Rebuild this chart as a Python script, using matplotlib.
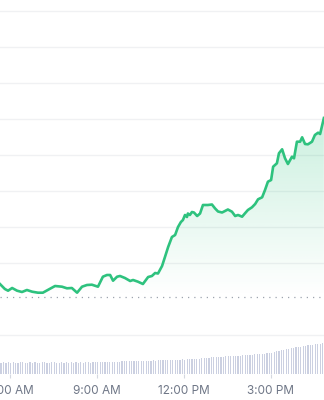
import matplotlib
matplotlib.use("Agg")
import matplotlib.pyplot as plt
import numpy as np
from matplotlib.patches import Polygon

# price trace (time in hours of the day, price in chart units)
hours = [5.67, 5.84, 5.95, 6.09, 6.26, 6.43, 6.60, 6.78, 6.98, 7.15,
         7.40, 7.57, 7.81, 7.98, 8.15, 8.33, 8.50, 8.67, 8.84, 9.05,
         9.22, 9.36, 9.47, 9.57, 9.71, 9.81, 9.98, 10.16, 10.26, 10.43,
         10.60, 10.78, 10.91, 11.02, 11.12, 11.26, 11.36, 11.47, 11.60, 11.71,
         11.81, 11.91, 11.98, 12.05, 12.12, 12.15, 12.22, 12.29, 12.36, 12.47,
         12.57, 12.67, 12.84, 12.98, 13.09, 13.19, 13.33, 13.43, 13.53, 13.67,
         13.78, 13.88, 14.02, 14.12, 14.22, 14.36, 14.47, 14.57, 14.71, 14.81,
         14.91, 15.02, 15.09, 15.22, 15.29, 15.40, 15.50, 15.60, 15.74, 15.81,
         15.91, 16.02, 16.09, 16.19, 16.29, 16.43, 16.53, 16.64, 16.71, 16.84]
price = [16, 11, 9.3, 12, 9.3, 8, 10, 8.3, 7.3, 7.3,
         11.3, 14, 13.3, 11.7, 12, 7.3, 13.3, 15, 15.3, 13.3,
         23.3, 25, 25, 19.3, 23.3, 24, 22, 19, 20, 18.3,
         16, 23, 24, 27, 26.5, 34, 43, 53, 63, 65,
         73, 78, 80, 85, 83, 86.5, 85, 88, 87.5, 84,
         86.5, 95, 95, 95.5, 91.5, 88.5, 87.5, 89, 90.5, 88.3,
         84, 85, 83.3, 86.7, 90, 92.7, 96, 100.7, 102.7, 110,
         118.3, 120, 133.3, 136.7, 146.7, 150.7, 141.7, 136, 143.3, 141.7,
         158.3, 158.3, 162.7, 156, 155.7, 158.3, 165, 167.3, 166, 182]

open_price = 3.5

# 5-minute volume bars
vol_start = 5.71
volume = [11.5, 11.8, 11.3, 11.6, 11.4, 11.7, 11.5, 11.3, 11.6, 11.8,
          11.4, 11.5, 11.7, 11.3, 11.6, 11.5, 11.4, 11.7, 11.6, 11.3,
          11.5, 11.8, 11.6, 11.4, 11.5, 11.7, 11.3, 11.6, 11.5, 11.8,
          11.4, 11.6, 11.5, 11.7, 11.4, 11.6, 11.8, 11.5, 11.7, 11.6,
          11.9, 12.0, 12.1, 12.0, 12.2, 12.3, 12.2, 12.4, 12.5, 12.4,
          12.6, 12.7, 12.6, 12.8, 12.9, 13.0, 12.9, 13.1, 13.2, 13.3,
          13.2, 13.4, 13.5, 13.6, 13.5, 13.7, 13.8, 13.9, 13.8, 14.0,
          14.1, 14.2, 14.1, 14.3, 14.4, 14.6, 14.5, 14.7, 14.8, 15.0,
          15.1, 15.3, 15.4, 15.6, 15.8, 16.1, 16.3, 16.6, 16.8, 17.0,
          17.2, 17.3, 17.5, 17.6, 17.8, 17.9, 18.0, 18.2, 18.3, 18.5,
          18.7, 18.9, 19.0, 19.2, 19.4, 19.6, 19.8, 20.0, 20.2, 20.5,
          20.8, 21.1, 21.5, 22.0, 22.6, 23.3, 24.0, 24.5, 24.9, 25.4,
          25.8, 26.3, 26.7, 27.1, 27.5, 28.0, 28.3, 28.7, 29.0, 29.4,
          29.7, 30.0, 30.4, 30.7]

tick_hours = [6, 9, 12, 15]
tick_labels = ['6:00 AM', '9:00 AM', '12:00 PM', '3:00 PM']
grid_levels = [-35, 37, 73, 109, 145, 181, 217, 253, 289]

LINE = '#2ec27e'
XLIM = (5.672, 16.844)

fig = plt.figure(figsize=(3.24, 4.0), dpi=100)
ax = fig.add_axes([0, 0, 1, 1])
ax.set_xlim(*XLIM)
ax.set_ylim(-100, 300)
ax.axis('off')

for g in grid_levels:
    ax.axhline(g, color='#f0f1f3', lw=1.0, zorder=0)
ax.axhline(open_price, color='#9da3ae', lw=0.9, ls=(0, (1, 4)), zorder=1)

# gradient area between the line and the open price
top = max(price)
rgba = np.zeros((256, 1, 4))
rgba[..., :3] = matplotlib.colors.to_rgb(LINE)
rgba[:, 0, 3] = np.linspace(0.0, 0.25, 256)
img = ax.imshow(rgba, extent=[XLIM[0], XLIM[1], open_price, top],
                origin='lower', aspect='auto', zorder=2)
verts = list(zip(hours, price)) + [(hours[-1], open_price), (hours[0], open_price)]
clip = Polygon(verts, closed=True, transform=ax.transData, facecolor='none', edgecolor='none')
ax.add_patch(clip)
img.set_clip_path(clip)

ax.plot(hours, price, color=LINE, lw=1.9, solid_joinstyle='round', zorder=3)

# volume panel
axv = fig.add_axes([0, 1 - 374 / 400, 1, 34 / 400])
vx = vol_start + np.arange(len(volume)) * 5 / 60
axv.bar(vx, volume, width=2.5 / 60, color='#cbd0e1', linewidth=0)
axv.set_xlim(*XLIM)
axv.set_ylim(0, 34)
axv.patch.set_alpha(0)
for s in axv.spines.values():
    s.set_visible(False)
axv.set_yticks([])
axv.set_xticks(tick_hours)
axv.set_xticklabels(tick_labels, fontfamily='Inter', fontsize=8.5, color='#6f7787')
axv.tick_params(axis='x', length=3, width=0.8, color='#d4d8e0', pad=5)

fig.savefig('out.png', dpi=100)
